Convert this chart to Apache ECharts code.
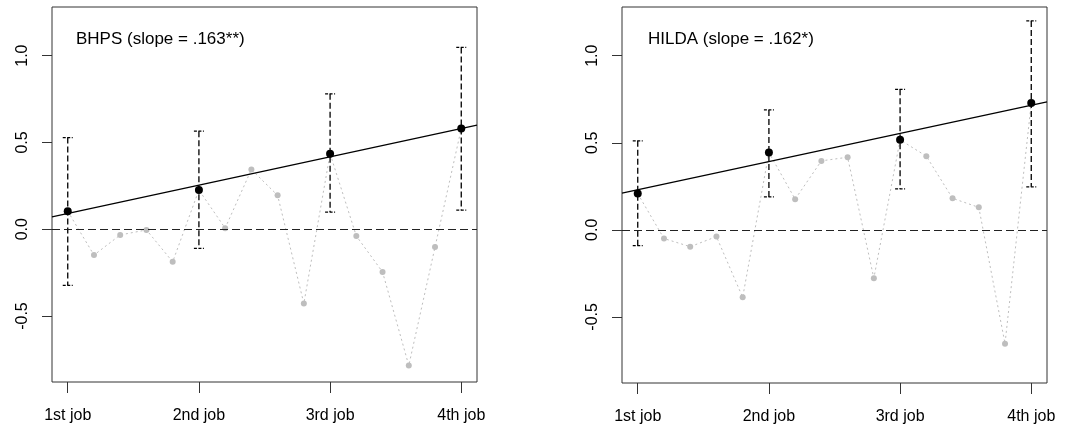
<!DOCTYPE html>
<html>
<head>
<meta charset="utf-8">
<script src="https://cdn.jsdelivr.net/npm/echarts@6/dist/echarts.min.js"></script>
<style>
html,body{margin:0;padding:0;background:#fff;}
#chart{width:1083px;height:433px;}
</style>
</head>
<body>
<div id="chart"></div>
<script>
// ---- data ----
const jobLabels = ['1st job', '2nd job', '3rd job', '4th job'];
const jobX = [1, 2, 3, 4];
const fineX = [1, 1.2, 1.4, 1.6, 1.8, 2, 2.2, 2.4, 2.6, 2.8, 3, 3.2, 3.4, 3.6, 3.8, 4];
const yTicks = [-0.5, 0, 0.5, 1.0];

const bhpsFine = [0.104, -0.149, -0.033, -0.004, -0.188, 0.226, 0.006, 0.344, 0.195, -0.428, 0.435, -0.039, -0.246, -0.785, -0.103, 0.580];
const bhpsMean = [0.104, 0.226, 0.435, 0.580];
const bhpsLower = [-0.323, -0.110, 0.099, 0.110];
const bhpsUpper = [0.528, 0.565, 0.780, 1.047];
const bhpsSlope = 0.163, bhpsIntercept = -0.072;
const bhpsLabel = 'BHPS (slope = .163**)';

const hildaFine = [0.208, -0.050, -0.097, -0.039, -0.388, 0.444, 0.176, 0.396, 0.417, -0.278, 0.517, 0.423, 0.181, 0.129, -0.654, 0.728];
const hildaMean = [0.208, 0.444, 0.517, 0.728];
const hildaLower = [-0.091, 0.189, 0.235, 0.247];
const hildaUpper = [0.511, 0.689, 0.807, 1.200];
const hildaSlope = 0.162, hildaIntercept = 0.068;
const hildaLabel = 'HILDA (slope = .162*)';

const xMin = 0.88, xMax = 4.12, yMin = -0.88, yMax = 1.28;

// ---- chart ----
const FONT = '"Liberation Sans", Arial, sans-serif';
const AXIS_COL = '#333';

function errRender(params, api) {
  const x = api.value(0), lo = api.value(1), hi = api.value(2);
  const pLo = api.coord([x, lo]), pHi = api.coord([x, hi]);
  const w = 5;
  const st = {stroke: '#000', lineWidth: 1.3, lineDash: [6, 3], fill: null};
  const cap = {stroke: '#000', lineWidth: 1.3, lineDash: [3, 1.5], fill: null};
  return {
    type: 'group',
    children: [
      {type: 'line', shape: {x1: pHi[0], y1: pHi[1], x2: pLo[0], y2: pLo[1]}, style: st},
      {type: 'line', shape: {x1: pHi[0] - w, y1: pHi[1], x2: pHi[0] + w, y2: pHi[1]}, style: cap},
      {type: 'line', shape: {x1: pLo[0] - w, y1: pLo[1], x2: pLo[0] + w, y2: pLo[1]}, style: cap}
    ]
  };
}

function panelSeries(idx, fine, mean, lower, upper, slope, intercept) {
  return [
    {
      type: 'line', xAxisIndex: idx, yAxisIndex: idx, z: 2,
      data: fineX.map((x, i) => [x, fine[i]]),
      symbol: 'circle', symbolSize: 6,
      itemStyle: {color: '#bebebe'},
      lineStyle: {color: '#bebebe', width: 1, type: [2, 3]},
      silent: true, animation: false,
      markLine: {
        silent: true, symbol: 'none', label: {show: false},
        lineStyle: {color: '#222', width: 1.2, type: [8, 4]},
        data: [{yAxis: 0}]
      }
    },
    {
      type: 'custom', xAxisIndex: idx, yAxisIndex: idx, z: 3,
      renderItem: errRender,
      encode: {x: 0, y: [1, 2]},
      data: jobX.map((x, i) => [x, lower[i], upper[i]]),
      silent: true, animation: false
    },
    {
      type: 'line', xAxisIndex: idx, yAxisIndex: idx, z: 4,
      data: [[xMin, intercept + slope * xMin], [xMax, intercept + slope * xMax]],
      symbol: 'none',
      lineStyle: {color: '#000', width: 1.2},
      silent: true, animation: false
    },
    {
      type: 'scatter', xAxisIndex: idx, yAxisIndex: idx, z: 5,
      data: jobX.map((x, i) => [x, mean[i]]),
      symbol: 'circle', symbolSize: 8,
      itemStyle: {color: '#000', opacity: 1},
      silent: true, animation: false
    }
  ];
}

function xAxisDef(idx) {
  return {
    type: 'value', gridIndex: idx, min: xMin, max: xMax,
    axisLine: {show: false, onZero: false},
    splitLine: {show: false},
    axisTick: {show: true, customValues: jobX, length: 11, lineStyle: {color: AXIS_COL, width: 1}},
    axisLabel: {
      customValues: jobX, margin: 26,
      fontFamily: FONT, fontSize: 16, color: '#000',
      formatter: v => jobLabels[Math.round(v) - 1]
    }
  };
}

function yAxisDef(idx) {
  return {
    type: 'value', gridIndex: idx, min: yMin, max: yMax,
    axisLine: {show: false, onZero: false},
    splitLine: {show: false},
    axisTick: {show: true, customValues: yTicks, length: 10, lineStyle: {color: AXIS_COL, width: 1}},
    axisLabel: {
      customValues: yTicks, margin: 29, rotate: 90,
      fontFamily: FONT, fontSize: 16, color: '#000',
      verticalAlign: 'middle', align: 'center',
      formatter: v => v.toFixed(1)
    }
  };
}

const chart = echarts.init(document.getElementById('chart'), null, {renderer: 'canvas'});
chart.setOption({
  animation: false,
  backgroundColor: '#fff',
  title: [
    {text: bhpsLabel, left: 76, top: 31, padding: 0, textStyle: {fontFamily: FONT, fontSize: 17, fontWeight: 'normal', color: '#000'}},
    {text: hildaLabel, left: 648, top: 31, padding: 0, textStyle: {fontFamily: FONT, fontSize: 17, fontWeight: 'normal', color: '#000'}}
  ],
  grid: [
    {left: 52, top: 7, width: 425, height: 375, show: true, borderColor: AXIS_COL, borderWidth: 1, backgroundColor: 'transparent'},
    {left: 622, top: 7, width: 425, height: 376, show: true, borderColor: AXIS_COL, borderWidth: 1, backgroundColor: 'transparent'}
  ],
  xAxis: [xAxisDef(0), xAxisDef(1)],
  yAxis: [yAxisDef(0), yAxisDef(1)],
  series: [
    ...panelSeries(0, bhpsFine, bhpsMean, bhpsLower, bhpsUpper, bhpsSlope, bhpsIntercept),
    ...panelSeries(1, hildaFine, hildaMean, hildaLower, hildaUpper, hildaSlope, hildaIntercept)
  ]
});
</script>
</body>
</html>
